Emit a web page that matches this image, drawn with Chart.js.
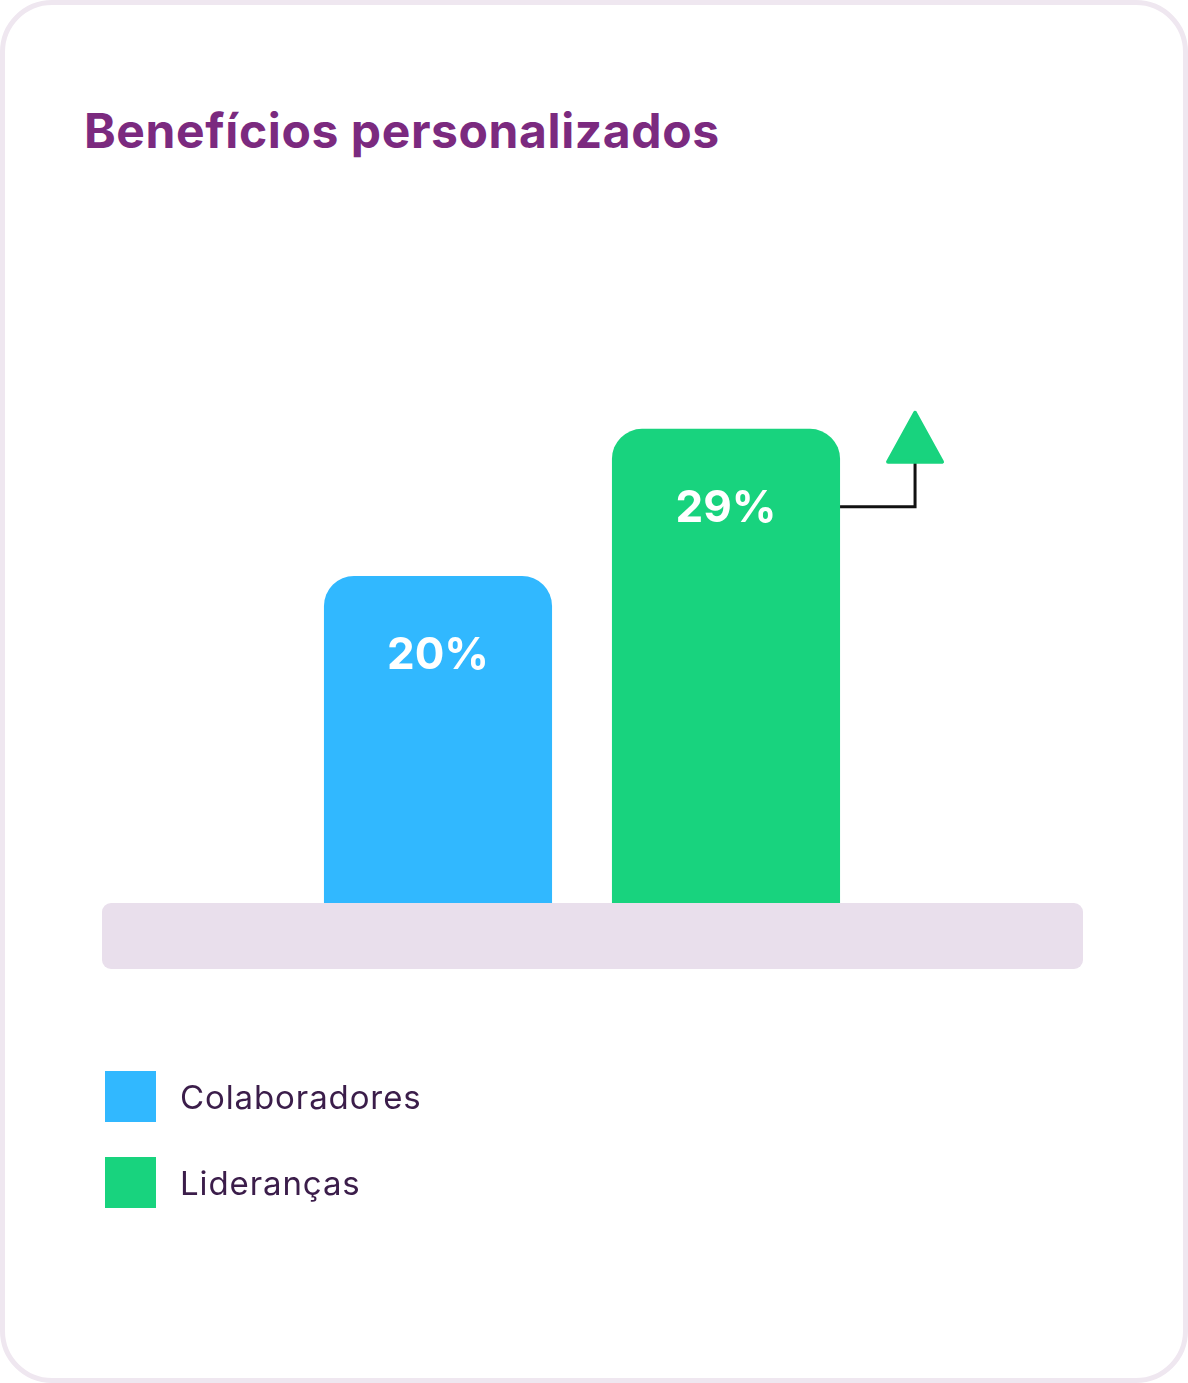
<!DOCTYPE html>
<html lang="pt">
<head>
<meta charset="utf-8">
<title>Benefícios personalizados</title>
<script src="https://cdn.jsdelivr.net/npm/chart.js@4/dist/chart.umd.min.js"></script>
<style>
  html, body { margin: 0; padding: 0; background: #ffffff; }
  #wrap { position: relative; width: 1188px; height: 1383px; overflow: hidden; font-family: Inter, "Noto Sans", sans-serif; }
  #card {
    position: absolute; left: 0; top: 0; width: 1188px; height: 1383px; box-sizing: border-box;
    border: 5px solid #efe7f0; border-radius: 52px; background: #fff;
  }
  #chartBeneficios { position: absolute; left: 0; top: 0; }
  h1 {
    position: absolute; left: 84px; top: 101px; margin: 0;
    font-size: 48px; font-weight: 700; color: #7b2a7f; letter-spacing: 0.6px; line-height: 60px;
  }
  .leg { position: absolute; left: 105px; display: flex; align-items: center; }
  .leg i { display: block; width: 51px; height: 51px; margin-right: 24px; }
  .leg span { font-size: 33px; color: #3b1d4a; letter-spacing: 0.9px; }
</style>
</head>
<body>
<div id="wrap">
  <div id="card"></div>
  <h1>Benefícios personalizados</h1>
  <canvas id="chartBeneficios" width="1188" height="1383"></canvas>
  <div id="legend"></div>
</div>
<script>
// ── Dados ──
const categorias = ['Colaboradores', 'Lideranças'];
const valores    = [20, 29];
const cores      = ['#31b8ff', '#18d37e'];
const rotulos    = ['20%', '29%'];

// ── Legenda (HTML) ──
const legendTops = [1071, 1157];
document.getElementById('legend').innerHTML = categorias.map((c, i) =>
  `<div class="leg" style="top:${legendTops[i]}px"><i style="background:${cores[i]}"></i><span>${c}</span></div>`
).join('');

// Plataforma cinza sob as barras
const basePlugin = {
  id: 'base',
  beforeDatasetsDraw(chart) {
    const { ctx } = chart;
    const y0 = chart.scales.y.getPixelForValue(0);
    ctx.save();
    ctx.fillStyle = '#e9dfec';
    ctx.beginPath();
    ctx.roundRect(102, y0, 981, 66, 9);
    ctx.fill();
    ctx.restore();
  }
};

// Rótulos de valor dentro das barras + seta de crescimento
const labelsPlugin = {
  id: 'valueLabels',
  afterDatasetsDraw(chart) {
    const { ctx } = chart;
    const meta = chart.getDatasetMeta(0);
    ctx.save();
    ctx.fillStyle = '#ffffff';
    ctx.font = '700 44px Inter, "Noto Sans", sans-serif';
    ctx.textAlign = 'center';
    ctx.textBaseline = 'middle';
    meta.data.forEach((bar, i) => {
      ctx.fillText(rotulos[i], bar.x, bar.y + 80);
    });

    // seta na última barra
    const last = meta.data[meta.data.length - 1];
    const right = last.x + last.width / 2;
    const ly = last.y + 78;
    const ax = right + 75;
    ctx.strokeStyle = '#111111';
    ctx.lineWidth = 3;
    ctx.lineJoin = 'miter';
    ctx.beginPath();
    ctx.moveTo(right, ly);
    ctx.lineTo(ax, ly);
    ctx.lineTo(ax, last.y + 33);
    ctx.stroke();

    ctx.fillStyle = cores[cores.length - 1];
    ctx.strokeStyle = cores[cores.length - 1];
    ctx.lineWidth = 4;
    ctx.lineJoin = 'round';
    ctx.beginPath();
    ctx.moveTo(ax, last.y - 16);
    ctx.lineTo(ax + 27, last.y + 33);
    ctx.lineTo(ax - 27, last.y + 33);
    ctx.closePath();
    ctx.fill();
    ctx.stroke();
    ctx.restore();
  }
};

new Chart(document.getElementById('chartBeneficios'), {
  type: 'bar',
  data: {
    labels: categorias,
    datasets: [{
      data: valores,
      backgroundColor: cores,
      borderRadius: { topLeft: 30, topRight: 30, bottomLeft: 0, bottomRight: 0 },
      borderSkipped: false,
      barPercentage: 0.792,
      categoryPercentage: 1
    }]
  },
  options: {
    responsive: false,
    devicePixelRatio: 1,
    animation: false,
    layout: { padding: { left: 294, right: 318, top: 249, bottom: 480 } },
    plugins: { legend: { display: false }, tooltip: { enabled: false } },
    scales: {
      x: { display: false },
      y: { display: false, min: 0, max: 40 }
    }
  },
  plugins: [basePlugin, labelsPlugin]
});
</script>
</body>
</html>
